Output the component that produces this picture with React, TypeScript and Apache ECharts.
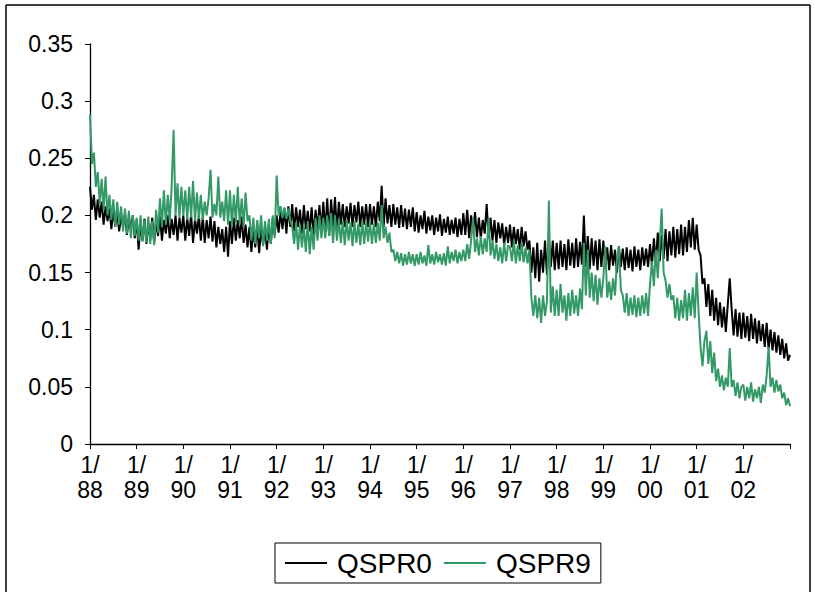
import React, { useEffect, useRef } from "react";
import * as echarts from "echarts";

const START_YEAR = 1988;
const END_YEAR = 2003;
const xTickLabels = ["1/\n88", "1/\n89", "1/\n90", "1/\n91", "1/\n92", "1/\n93", "1/\n94", "1/\n95", "1/\n96", "1/\n97", "1/\n98", "1/\n99", "1/\n00", "1/\n01", "1/\n02"];
const seriesNames = ["QSPR0", "QSPR9"];

// QSPR0 (black): two readings per month (band high / low), one row per year
const q0_1988 = [0.225, 0.205, 0.218, 0.196, 0.214, 0.198, 0.212, 0.192, 0.208, 0.195, 0.206, 0.188, 0.205, 0.19, 0.203, 0.186, 0.2, 0.19, 0.202, 0.183, 0.198, 0.188, 0.2, 0.18];
const q0_1989 = [0.196, 0.17, 0.194, 0.178, 0.197, 0.175, 0.192, 0.18, 0.198, 0.176, 0.195, 0.182, 0.199, 0.178, 0.196, 0.184, 0.2, 0.18, 0.197, 0.183, 0.2, 0.178, 0.198, 0.185];
const q0_1990 = [0.2, 0.178, 0.198, 0.182, 0.201, 0.176, 0.197, 0.184, 0.2, 0.178, 0.199, 0.176, 0.196, 0.18, 0.199, 0.177, 0.195, 0.172, 0.19, 0.175, 0.188, 0.168, 0.19, 0.164];
const q0_1991 = [0.195, 0.175, 0.198, 0.178, 0.196, 0.18, 0.199, 0.176, 0.192, 0.172, 0.19, 0.168, 0.188, 0.172, 0.191, 0.167, 0.189, 0.174, 0.19, 0.17, 0.192, 0.175, 0.198, 0.183];
const q0_1992 = [0.2, 0.185, 0.203, 0.188, 0.206, 0.184, 0.208, 0.19, 0.21, 0.186, 0.207, 0.19, 0.205, 0.184, 0.209, 0.188, 0.204, 0.186, 0.207, 0.182, 0.205, 0.188, 0.209, 0.186];
const q0_1993 = [0.212, 0.185, 0.215, 0.182, 0.214, 0.19, 0.216, 0.186, 0.212, 0.192, 0.21, 0.19, 0.208, 0.193, 0.211, 0.19, 0.209, 0.194, 0.212, 0.19, 0.208, 0.192, 0.21, 0.19];
const q0_1994 = [0.21, 0.192, 0.208, 0.19, 0.212, 0.195, 0.226, 0.19, 0.215, 0.193, 0.209, 0.19, 0.21, 0.192, 0.207, 0.189, 0.209, 0.19, 0.206, 0.188, 0.205, 0.19, 0.207, 0.186];
const q0_1995 = [0.203, 0.185, 0.2, 0.188, 0.204, 0.184, 0.199, 0.187, 0.2, 0.183, 0.198, 0.186, 0.201, 0.182, 0.197, 0.185, 0.199, 0.183, 0.196, 0.184, 0.198, 0.181, 0.197, 0.183];
const q0_1996 = [0.202, 0.183, 0.205, 0.18, 0.2, 0.185, 0.203, 0.181, 0.198, 0.18, 0.196, 0.184, 0.21, 0.18, 0.198, 0.178, 0.196, 0.176, 0.194, 0.18, 0.193, 0.174, 0.19, 0.176];
const q0_1997 = [0.192, 0.172, 0.19, 0.175, 0.188, 0.17, 0.19, 0.173, 0.186, 0.17, 0.178, 0.15, 0.172, 0.145, 0.176, 0.142, 0.17, 0.15, 0.178, 0.148, 0.18, 0.155, 0.178, 0.152];
const q0_1998 = [0.176, 0.153, 0.178, 0.155, 0.175, 0.152, 0.179, 0.156, 0.176, 0.154, 0.18, 0.155, 0.177, 0.157, 0.2, 0.155, 0.182, 0.153, 0.18, 0.156, 0.178, 0.152, 0.179, 0.155];
const q0_1999 = [0.178, 0.155, 0.172, 0.152, 0.174, 0.156, 0.17, 0.15, 0.173, 0.155, 0.171, 0.152, 0.172, 0.154, 0.17, 0.151, 0.173, 0.155, 0.17, 0.152, 0.172, 0.156, 0.171, 0.155];
const q0_2000 = [0.175, 0.156, 0.18, 0.158, 0.185, 0.16, 0.183, 0.162, 0.188, 0.16, 0.186, 0.165, 0.19, 0.163, 0.188, 0.166, 0.192, 0.165, 0.19, 0.168, 0.196, 0.172, 0.198, 0.17];
const q0_2001 = [0.192, 0.17, 0.165, 0.14, 0.145, 0.12, 0.14, 0.112, 0.135, 0.108, 0.128, 0.104, 0.124, 0.102, 0.12, 0.098, 0.122, 0.145, 0.118, 0.095, 0.118, 0.094, 0.115, 0.092];
const q0_2002 = [0.115, 0.093, 0.112, 0.09, 0.114, 0.092, 0.11, 0.088, 0.108, 0.09, 0.105, 0.085, 0.106, 0.083, 0.1, 0.082, 0.098, 0.08, 0.095, 0.078, 0.092, 0.075, 0.088, 0.073];
const q0_end = 0.078;

// QSPR9 (green)
const q9_1988 = [0.288, 0.245, 0.255, 0.225, 0.238, 0.21, 0.232, 0.205, 0.234, 0.2, 0.218, 0.196, 0.214, 0.19, 0.212, 0.192, 0.208, 0.186, 0.206, 0.184, 0.204, 0.18, 0.2, 0.182];
const q9_1989 = [0.198, 0.178, 0.2, 0.177, 0.196, 0.176, 0.199, 0.175, 0.195, 0.174, 0.205, 0.185, 0.215, 0.19, 0.222, 0.192, 0.218, 0.195, 0.225, 0.275, 0.2, 0.228, 0.198, 0.225];
const q9_1990 = [0.2, 0.222, 0.196, 0.225, 0.198, 0.23, 0.195, 0.22, 0.197, 0.218, 0.196, 0.212, 0.2, 0.215, 0.24, 0.198, 0.21, 0.2, 0.234, 0.198, 0.212, 0.195, 0.222, 0.192];
const q9_1991 = [0.222, 0.19, 0.218, 0.194, 0.225, 0.192, 0.215, 0.19, 0.22, 0.195, 0.2, 0.178, 0.198, 0.175, 0.196, 0.18, 0.2, 0.173, 0.195, 0.178, 0.197, 0.175, 0.2, 0.18];
const q9_1992 = [0.235, 0.2, 0.208, 0.198, 0.207, 0.197, 0.206, 0.196, 0.19, 0.175, 0.194, 0.17, 0.192, 0.172, 0.19, 0.168, 0.195, 0.166, 0.19, 0.17, 0.198, 0.178, 0.2, 0.18];
const q9_1993 = [0.198, 0.18, 0.2, 0.182, 0.202, 0.176, 0.2, 0.178, 0.197, 0.176, 0.195, 0.174, 0.196, 0.178, 0.194, 0.173, 0.195, 0.176, 0.193, 0.174, 0.196, 0.175, 0.194, 0.177];
const q9_1994 = [0.195, 0.175, 0.193, 0.176, 0.194, 0.178, 0.209, 0.18, 0.19, 0.176, 0.185, 0.168, 0.17, 0.16, 0.168, 0.158, 0.167, 0.156, 0.166, 0.157, 0.168, 0.158, 0.166, 0.156];
const q9_1995 = [0.166, 0.157, 0.168, 0.158, 0.165, 0.156, 0.174, 0.158, 0.166, 0.157, 0.168, 0.159, 0.166, 0.157, 0.167, 0.156, 0.173, 0.158, 0.168, 0.16, 0.17, 0.158, 0.168, 0.16];
const q9_1996 = [0.17, 0.16, 0.175, 0.162, 0.178, 0.198, 0.168, 0.18, 0.165, 0.182, 0.166, 0.18, 0.168, 0.198, 0.165, 0.178, 0.162, 0.175, 0.16, 0.172, 0.158, 0.176, 0.16, 0.174];
const q9_1997 = [0.172, 0.16, 0.178, 0.158, 0.174, 0.16, 0.176, 0.159, 0.172, 0.158, 0.17, 0.128, 0.112, 0.13, 0.11, 0.128, 0.106, 0.13, 0.112, 0.125, 0.213, 0.115, 0.138, 0.112];
const q9_1998 = [0.135, 0.112, 0.14, 0.115, 0.13, 0.108, 0.132, 0.112, 0.135, 0.114, 0.13, 0.112, 0.136, 0.118, 0.176, 0.13, 0.17, 0.128, 0.15, 0.125, 0.148, 0.122, 0.145, 0.128];
const q9_1999 = [0.145, 0.173, 0.128, 0.142, 0.126, 0.145, 0.13, 0.16, 0.173, 0.135, 0.13, 0.115, 0.132, 0.112, 0.128, 0.113, 0.13, 0.111, 0.128, 0.112, 0.13, 0.114, 0.132, 0.112];
const q9_2000 = [0.14, 0.16, 0.138, 0.17, 0.145, 0.175, 0.206, 0.15, 0.143, 0.128, 0.14, 0.126, 0.13, 0.11, 0.128, 0.108, 0.126, 0.11, 0.135, 0.108, 0.132, 0.112, 0.137, 0.11];
const q9_2001 = [0.15, 0.115, 0.085, 0.068, 0.09, 0.099, 0.07, 0.09, 0.062, 0.08, 0.055, 0.066, 0.05, 0.06, 0.047, 0.058, 0.05, 0.084, 0.05, 0.056, 0.042, 0.054, 0.04, 0.05];
const q9_2002 = [0.052, 0.038, 0.05, 0.04, 0.054, 0.037, 0.048, 0.04, 0.05, 0.036, 0.052, 0.045, 0.06, 0.085, 0.05, 0.058, 0.045, 0.056, 0.046, 0.052, 0.04, 0.045, 0.034, 0.04];
const q9_end = 0.033;

const QSPR0 = [q0_1988, q0_1989, q0_1990, q0_1991, q0_1992, q0_1993, q0_1994, q0_1995, q0_1996, q0_1997, q0_1998, q0_1999, q0_2000, q0_2001, q0_2002];
const QSPR9 = [q9_1988, q9_1989, q9_1990, q9_1991, q9_1992, q9_1993, q9_1994, q9_1995, q9_1996, q9_1997, q9_1998, q9_1999, q9_2000, q9_2001, q9_2002];

function toPoints(byYear: number[][], endValue: number): [number, number][] {
  const pts: [number, number][] = [];
  byYear.forEach((vals, yi) => {
    vals.forEach((v, j) => pts.push([START_YEAR + yi + j / vals.length, v]));
  });
  pts.push([END_YEAR, endValue]);
  return pts;
}

const FONT = "'Liberation Sans', Arial, sans-serif";

export default function App() {
  const ref = useRef<HTMLDivElement>(null);
  useEffect(() => {
    document.body.style.margin = "0";
    const chart = echarts.init(ref.current!, null, { renderer: "svg" });
    chart.setOption({
      animation: false,
      backgroundColor: "#fff",
      textStyle: { fontFamily: FONT },
      grid: { left: 90, right: 24, top: 44, bottom: 148 },
      graphic: [
        { type: "line", shape: { x1: 6, y1: 5, x2: 810, y2: 5 }, style: { stroke: "#000", lineWidth: 1.5 } },
        { type: "line", shape: { x1: 6, y1: 5, x2: 6, y2: 592 }, style: { stroke: "#000", lineWidth: 1.5 } },
        { type: "line", shape: { x1: 810, y1: 5, x2: 810, y2: 592 }, style: { stroke: "#000", lineWidth: 1.5 } },
      ],
      legend: {
        left: 275,
        top: 543,
        orient: "horizontal",
        padding: [6, 10, 6, 10],
        borderColor: "#000",
        borderWidth: 1,
        itemWidth: 42,
        itemHeight: 2,
        itemGap: 12,
        icon: "rect",
        data: seriesNames,
        textStyle: { fontSize: 28, color: "#000", fontFamily: FONT, padding: [0, 0, 0, 5] },
      },
      xAxis: {
        type: "value",
        min: START_YEAR,
        max: END_YEAR,
        interval: 1,
        axisLine: { lineStyle: { color: "#000", width: 1.3 } },
        axisTick: { length: 5, lineStyle: { color: "#000" } },
        splitLine: { show: false },
        axisLabel: {
          color: "#000",
          fontSize: 23,
          lineHeight: 25,
          margin: 8,
          fontFamily: FONT,
          formatter: (v: number) => xTickLabels[Math.round(v - START_YEAR)] ?? "",
        },
      },
      yAxis: {
        type: "value",
        min: 0,
        max: 0.35,
        interval: 0.05,
        axisLine: { show: true, lineStyle: { color: "#000", width: 1.3 } },
        axisTick: { show: true, length: 5, lineStyle: { color: "#000" } },
        splitLine: { show: false },
        axisLabel: { color: "#000", fontSize: 23, margin: 17, fontFamily: FONT },
      },
      series: [
        {
          name: seriesNames[0],
          type: "line",
          data: toPoints(QSPR0, q0_end),
          showSymbol: false,
          symbol: "none",
          color: "#000000",
          lineStyle: { color: "#000000", width: 2 },
        },
        {
          name: seriesNames[1],
          type: "line",
          data: toPoints(QSPR9, q9_end),
          showSymbol: false,
          symbol: "none",
          color: "#339966",
          lineStyle: { color: "#339966", width: 2 },
        },
      ],
    });
    return () => chart.dispose();
  }, []);
  return <div ref={ref} style={{ width: 814, height: 592 }} />;
}
